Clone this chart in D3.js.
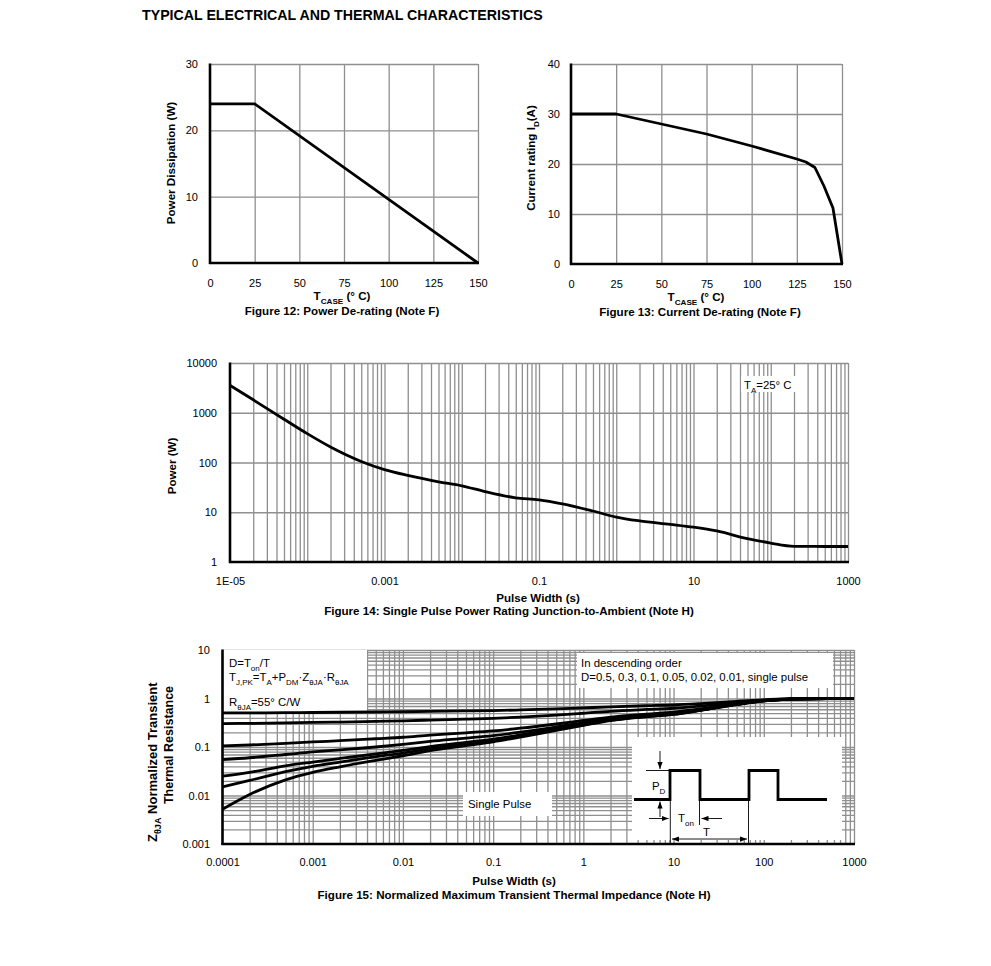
<!DOCTYPE html>
<html><head><meta charset="utf-8">
<script src="https://cdn.jsdelivr.net/npm/d3@7"></script>
<style>body{margin:0;background:#fff}</style>
</head><body>
<svg id="c" width="991" height="966" xmlns="http://www.w3.org/2000/svg"></svg>
<script>
// ---------- DATA ----------
const fig12Temp = [0, 25, 150];
const fig12Power = [24, 24, 0];
const fig13Temp = [0, 25, 50, 75, 100, 125, 130, 135, 140, 145, 150];
const fig13Current = [30, 30, 28, 26, 23.6, 21, 20.4, 19.3, 15.6, 11.2, 0];
const tempTicks = [0, 25, 50, 75, 100, 125, 150];
const fig12YTicks = [0, 10, 20, 30];
const fig13YTicks = [0, 10, 20, 30, 40];

const fig14Width = [1e-5,2e-5,5e-5,1e-4,2e-4,5e-4,1e-3,2e-3,5e-3,1e-2,2e-2,5e-2,0.1,0.2,0.5,1,2,5,10,20,50,100,200,500,1000];
const fig14Power = [3550,1820,740,380,205,105,72,55,41,34,26,19.5,17.8,14.8,10.6,8.0,6.7,5.7,5.0,4.2,2.95,2.4,2.07,2.05,2.05];
const fig14XTicks = [1e-5, 1e-3, 1e-1, 10, 1000];
const fig14XLabels = ["1E-05", "0.001", "0.1", "10", "1000"];
const fig14YTicks = [1, 10, 100, 1000, 10000];
const fig14YLabels = ["1", "10", "100", "1000", "10000"];

const fig15Width = [1e-4,2e-4,5e-4,1e-3,2e-3,5e-3,1e-2,2e-2,5e-2,0.1,0.2,0.5,1,2,5,10,20,50,100,200,500,1000];
const zD05  = [0.503,0.505,0.511,0.515,0.520,0.527,0.533,0.542,0.554,0.564,0.580,0.610,0.640,0.675,0.710,0.735,0.785,0.875,0.94,0.99,1.0,1.0];
const zD03  = [0.304,0.307,0.315,0.321,0.327,0.337,0.346,0.359,0.375,0.390,0.412,0.454,0.496,0.545,0.594,0.629,0.699,0.825,0.92,0.98,1.0,1.0];
const zD01  = [0.105,0.110,0.119,0.127,0.135,0.148,0.159,0.176,0.196,0.215,0.244,0.298,0.352,0.415,0.478,0.523,0.613,0.775,0.90,0.97,1.0,1.0];
const zD005 = [0.055,0.060,0.070,0.079,0.087,0.100,0.113,0.130,0.152,0.172,0.202,0.259,0.316,0.383,0.449,0.497,0.592,0.763,0.90,0.97,1.0,1.0];
const zD002 = [0.025,0.030,0.041,0.049,0.058,0.072,0.085,0.102,0.125,0.145,0.177,0.236,0.294,0.363,0.432,0.481,0.579,0.755,0.89,0.97,1.0,1.0];
const zD001 = [0.015,0.0204,0.031,0.040,0.049,0.063,0.075,0.093,0.116,0.137,0.168,0.228,0.287,0.357,0.426,0.475,0.574,0.753,0.89,0.97,1.0,1.0];
const zSingle = [0.0052,0.0105,0.021,0.030,0.039,0.053,0.066,0.084,0.107,0.128,0.16,0.22,0.28,0.35,0.42,0.47,0.57,0.75,0.89,0.97,1.0,1.0];
const fig15XTicks = [1e-4,1e-3,1e-2,1e-1,1,10,100,1000];
const fig15XLabels = ["0.0001","0.001","0.01","0.1","1","10","100","1000"];
const fig15YTicks = [0.001,0.01,0.1,1,10];
const fig15YLabels = ["0.001","0.01","0.1","1","10"];

// ---------- STYLE ----------
const FONT = '"Liberation Sans", Arial, Helvetica, sans-serif';
const GRID = "#8f8f8f", GW = 1.3, AXW = 2.6, CW = 2.8, TS = 11, AS = 11.4, BS = 11.6;
const svg = d3.select("#c");

function rich(g, x, y, parts, o = {}) {
  const size = o.size || AS;
  const t = g.append("text").attr("x", x).attr("y", y)
    .attr("font-family", FONT).attr("font-size", size)
    .attr("font-weight", o.bold ? "bold" : "normal")
    .attr("text-anchor", o.anchor || "start").attr("fill", "#000");
  if (o.rotate) t.attr("transform", `rotate(-90,${x},${y})`);
  if (typeof parts === "string") parts = [[parts]];
  let shifted = 0;
  parts.forEach(([s, kind]) => {
    const ts = t.append("tspan").text(s);
    const target = kind === "sub" ? size * 0.32 : 0;
    const dy = target - shifted;
    if (dy !== 0) ts.attr("dy", dy);
    shifted = target;
    if (kind === "sub") ts.attr("font-size", size * 0.7);
  });
  return t;
}

function logMinor(lo, hi) {
  const out = [];
  for (let e = Math.round(Math.log10(lo)); e < Math.round(Math.log10(hi)); e++)
    for (let k = 1; k <= 9; k++) out.push(k * Math.pow(10, e));
  out.push(hi);
  return out;
}

function grid(g, x, y, xv, yv) {
  const [x0, x1] = x.range(), [y0, y1] = y.range();
  g.append("g").attr("transform", `translate(0,${y0})`)
    .call(d3.axisBottom(x).tickValues(xv).tickSize(-(y0 - y1)).tickFormat(""))
    .call(s => { s.select(".domain").remove(); s.selectAll("line").attr("stroke", GRID).attr("stroke-width", GW); });
  g.append("g").attr("transform", `translate(${x0},0)`)
    .call(d3.axisLeft(y).tickValues(yv).tickSize(-(x1 - x0)).tickFormat(""))
    .call(s => { s.select(".domain").remove(); s.selectAll("line").attr("stroke", GRID).attr("stroke-width", GW); });
}

function axesLines(g, x, y) {
  const [x0, x1] = x.range(), [y0, y1] = y.range();
  g.append("line").attr("x1", x0).attr("x2", x0).attr("y1", y1 - 0.5).attr("y2", y0 + 1).attr("stroke", "#000").attr("stroke-width", AXW);
  g.append("line").attr("x1", x0 - 1).attr("x2", x1 + 1).attr("y1", y0).attr("y2", y0).attr("stroke", "#000").attr("stroke-width", AXW);
}

function labels(g, x, y, xv, xl, yv, yl, xpad, ypad) {
  const [x0] = x.range(), [y0] = y.range();
  g.append("g").attr("transform", `translate(0,${y0})`)
    .call(d3.axisBottom(x).tickValues(xv).tickSize(0).tickPadding(xpad).tickFormat((d, i) => xl ? xl[i] : d))
    .call(s => { s.select(".domain").remove(); s.selectAll("text").attr("font-family", FONT).attr("font-size", TS).attr("fill", "#000"); });
  g.append("g").attr("transform", `translate(${x0},0)`)
    .call(d3.axisLeft(y).tickValues(yv).tickSize(0).tickPadding(ypad).tickFormat((d, i) => yl ? yl[i] : d))
    .call(s => { s.select(".domain").remove(); s.selectAll("text").attr("font-family", FONT).attr("font-size", TS).attr("fill", "#000"); });
}

// Title
rich(svg, 142, 20, "TYPICAL ELECTRICAL AND THERMAL CHARACTERISTICS", { bold: true, size: 14.2 });

// ---------- FIGURE 12 ----------
{
  const g = svg.append("g");
  const x = d3.scaleLinear().domain([0, 150]).range([210, 478]);
  const y = d3.scaleLinear().domain([0, 30]).range([263, 64]);
  grid(g, x, y, tempTicks.slice(1), fig12YTicks.slice(1));
  axesLines(g, x, y);
  labels(g, x, y, tempTicks, null, fig12YTicks, null, 16, 12);
  g.append("path").datum(fig12Temp.map((t, i) => [t, fig12Power[i]]))
    .attr("d", d3.line().x(d => x(d[0])).y(d => y(d[1])))
    .attr("fill", "none").attr("stroke", "#000").attr("stroke-width", CW).attr("stroke-linejoin", "miter");
  rich(g, 175, 163, "Power Dissipation (W)", { bold: true, size: BS, anchor: "middle", rotate: true });
  rich(g, 342, 300, [["T"], ["CASE", "sub"], [" (°  C)"]], { bold: true, size: BS, anchor: "middle" });
  rich(g, 342, 315, "Figure 12: Power De-rating (Note F)", { bold: true, size: BS, anchor: "middle" });
}

// ---------- FIGURE 13 ----------
{
  const g = svg.append("g");
  const x = d3.scaleLinear().domain([0, 150]).range([571, 842]);
  const y = d3.scaleLinear().domain([0, 40]).range([264, 64]);
  grid(g, x, y, tempTicks.slice(1), fig13YTicks.slice(1));
  axesLines(g, x, y);
  labels(g, x, y, tempTicks, null, fig13YTicks, null, 16.5, 11);
  g.append("path").datum(fig13Temp.map((t, i) => [t, fig13Current[i]]))
    .attr("d", d3.line().x(d => x(d[0])).y(d => y(d[1])))
    .attr("fill", "none").attr("stroke", "#000").attr("stroke-width", CW).attr("stroke-linejoin", "round");
  rich(g, 535, 158, [["Current rating I"], ["D", "sub"], ["(A)"]], { bold: true, size: BS, anchor: "middle", rotate: true });
  rich(g, 696, 301, [["T"], ["CASE", "sub"], [" (°  C)"]], { bold: true, size: BS, anchor: "middle" });
  rich(g, 700, 316, "Figure 13: Current De-rating (Note F)", { bold: true, size: BS, anchor: "middle" });
}

// ---------- FIGURE 14 ----------
{
  const g = svg.append("g");
  const x = d3.scaleLog().domain([1e-5, 1000]).range([230, 848]);
  const y = d3.scaleLog().domain([1, 10000]).range([562, 363]);
  grid(g, x, y, logMinor(1e-5, 1000).slice(1), fig14YTicks.slice(1));
  g.append("rect").attr("x", 741).attr("y", 376).attr("width", 55).attr("height", 16).attr("fill", "#fff");
  rich(g, 744, 389, [["T"], ["A", "sub"], ["=25°  C"]]);
  axesLines(g, x, y);
  labels(g, x, y, fig14XTicks, fig14XLabels, fig14YTicks, fig14YLabels, 15.5, 13);
  g.append("path").datum(fig14Width.map((t, i) => [t, fig14Power[i]]))
    .attr("d", d3.line().curve(d3.curveMonotoneX).x(d => x(d[0])).y(d => y(d[1])))
    .attr("fill", "none").attr("stroke", "#000").attr("stroke-width", CW);
  rich(g, 176, 466, "Power (W)", { bold: true, size: BS, anchor: "middle", rotate: true });
  rich(g, 538, 602, "Pulse Width (s)", { bold: true, size: BS, anchor: "middle" });
  rich(g, 509, 615, "Figure 14: Single Pulse Power Rating Junction-to-Ambient (Note H)", { bold: true, size: BS, anchor: "middle" });
}

// ---------- FIGURE 15 ----------
{
  const g = svg.append("g");
  const x = d3.scaleLog().domain([1e-4, 1000]).range([222.5, 854]);
  const y = d3.scaleLog().domain([0.001, 10]).range([844, 650]);
  grid(g, x, y, logMinor(1e-4, 1000).slice(1), logMinor(0.001, 10).slice(1));
  // white annotation boxes
  g.append("rect").attr("x", 223).attr("y", 650).attr("width", 144).attr("height", 62).attr("fill", "#fff");
  g.append("rect").attr("x", 577).attr("y", 653).attr("width", 256).attr("height", 35).attr("fill", "#fff");
  g.append("rect").attr("x", 463).attr("y", 792).attr("width", 89).attr("height", 24).attr("fill", "#fff");
  g.append("rect").attr("x", 632).attr("y", 737).attr("width", 210).attr("height", 103).attr("fill", "#fff");
  axesLines(g, x, y);
  labels(g, x, y, fig15XTicks, fig15XLabels, fig15YTicks, fig15YLabels, 14, 12.5);
  const series = [zD05, zD03, zD01, zD005, zD002, zD001, zSingle];
  const line = d3.line().curve(d3.curveMonotoneX).x(d => x(d[0])).y(d => y(d[1]));
  g.selectAll("path.z").data(series).join("path").attr("class", "z")
    .attr("d", s => line(fig15Width.map((w, i) => [w, s[i]])))
    .attr("fill", "none").attr("stroke", "#000").attr("stroke-width", CW);

  rich(g, 229, 667, [["D=T"], ["on", "sub"], ["/T"]]);
  rich(g, 229, 681, [["T"], ["J,PK", "sub"], ["=T"], ["A", "sub"], ["+P"], ["DM", "sub"], ["·Z"], ["θJA", "sub"], ["·R"], ["θJA", "sub"]]);
  rich(g, 229, 706, [["R"], ["θJA", "sub"], ["=55°  C/W"]]);
  rich(g, 581, 667, "In descending order");
  rich(g, 581, 681, "D=0.5, 0.3, 0.1, 0.05, 0.02, 0.01, single pulse");
  rich(g, 468, 808, "Single Pulse");

  // inset pulse diagram
  const defs = svg.append("defs");
  defs.append("marker").attr("id", "ah").attr("viewBox", "0 0 8 6").attr("refX", 8).attr("refY", 3)
    .attr("markerWidth", 7).attr("markerHeight", 5.5).attr("markerUnits", "userSpaceOnUse")
    .attr("orient", "auto-start-reverse").append("path").attr("d", "M0,0L8,3L0,6Z").attr("fill", "#000");
  const hi = 770.5, lo = 799.5;
  const wave = [[634, lo], [670, lo], [670, hi], [700, hi], [700, lo], [749, lo], [749, hi], [778, hi], [778, lo], [827, lo]];
  g.append("path").attr("d", d3.line()(wave)).attr("fill", "none").attr("stroke", "#000").attr("stroke-width", 2.8).attr("stroke-linejoin", "miter");
  const thin = (x1, y1, x2, y2, ms, me) => {
    const l = g.append("line").attr("x1", x1).attr("y1", y1).attr("x2", x2).attr("y2", y2).attr("stroke", "#000").attr("stroke-width", 0.9);
    if (ms) l.attr("marker-start", "url(#ah)");
    if (me) l.attr("marker-end", "url(#ah)");
  };
  thin(646, hi, 670, hi);
  thin(660, 751, 660, 769, false, true);
  thin(660, 817, 660, 801.5, false, true);
  thin(670.3, lo, 670.3, 843);
  thin(699.5, lo, 699.5, 825);
  thin(748.5, lo, 748.5, 843);
  thin(649, 818.5, 668.5, 818.5, false, true);
  thin(722, 818.5, 701.5, 818.5, false, true);
  thin(672, 839, 747, 839, true, true);
  rich(g, 652, 790, [["P"], ["D", "sub"]]);
  rich(g, 678, 822, [["T"], ["on", "sub"]]);
  rich(g, 703, 836, "T");

  rich(g, 157, 842, [["Z"], ["θJA", "sub"], [" Normalized Transient"]], { bold: true, size: 13, rotate: true });
  rich(g, 173, 745, "Thermal Resistance", { bold: true, size: 12.5, anchor: "middle", rotate: true });
  rich(g, 514, 885, "Pulse Width (s)", { bold: true, size: BS, anchor: "middle" });
  rich(g, 514, 899, "Figure 15: Normalized Maximum Transient Thermal Impedance (Note H)", { bold: true, size: BS, anchor: "middle" });
}
</script>
</body></html>
